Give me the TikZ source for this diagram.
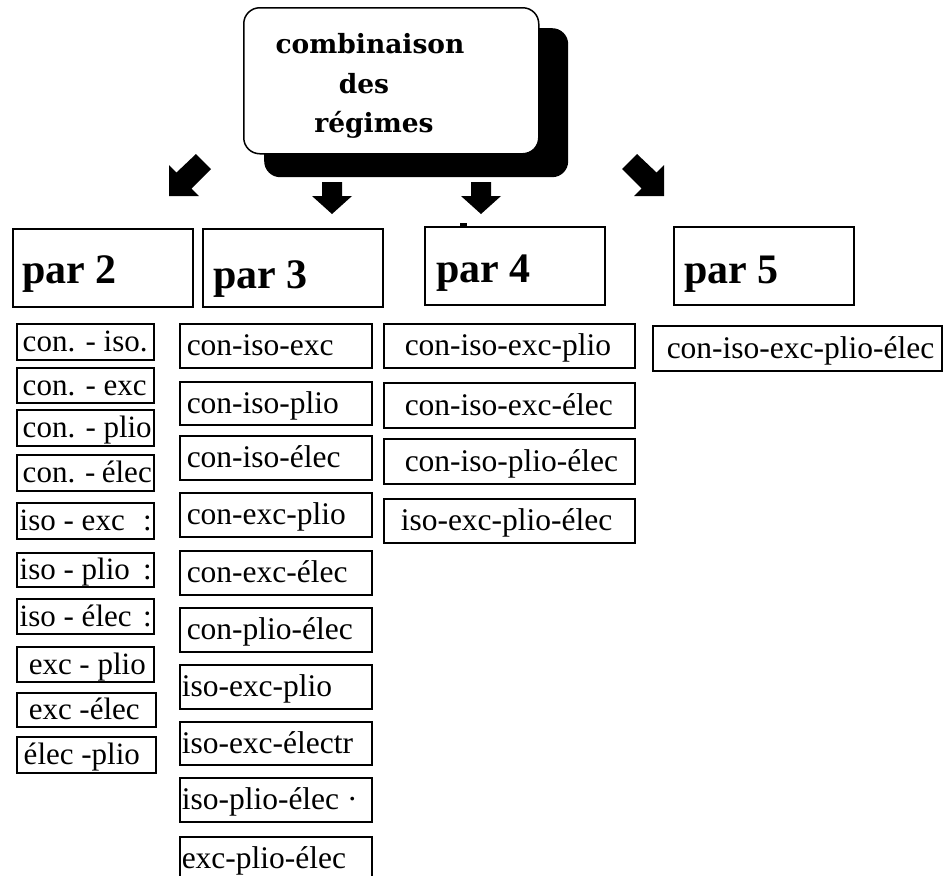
\documentclass[tikz,border=0pt]{standalone}
\usepackage{fontspec}
\setmainfont{Liberation Serif}
\newfontfamily\titlefont{DejaVu Serif}
\newcommand\inbox[2]{\hbox to #1{#2\hfil}}
\begin{document}
\begin{tikzpicture}[x=1pt,y=-1pt,
  box/.style={draw=black, line width=1.5pt, fill=white, inner sep=0pt, anchor=north west},
  small/.style={box, font=\fontsize{31.5}{31.5}\selectfont, text height=20pt, text depth=0pt},
  colA/.style={small, font=\fontsize{31}{31}\selectfont, minimum width=137pt},
  colAw/.style={small, font=\fontsize{31}{31}\selectfont, minimum width=139pt},
  colB/.style={small, minimum width=192pt},
  colC/.style={small, minimum width=251pt},
  colD/.style={small, minimum width=289pt},
  parbox/.style={box, minimum width=180pt, minimum height=78pt},
  parlabel/.style={anchor=base west, inner sep=0pt, font=\fontsize{42}{42}\selectfont\bfseries},
  titleline/.style={anchor=base, inner sep=0pt, font=\titlefont\bfseries\fontsize{26.5}{26.5}\selectfont},
  blockarrow/.style={fill=black, draw=none}
]
\useasboundingbox (0,0) rectangle (943,876);

% title box with shadow
\node[anchor=north west, fill=black, rounded corners=16pt, minimum width=304pt, minimum height=149pt, inner sep=0pt] (shadow) at (264,28) {};
\node[box, rounded corners=16pt, minimum width=295pt, minimum height=146pt] (top) at (243,7) {};
\node[titleline] (t1) at (370,53) {combinaison};
\node[titleline] (t2) at (364,93) {des};
\node[titleline] (t3) at (374,132) {régimes};

% block arrows
\fill[blockarrow] (169,196) -- (169,165) -- (176.5,172.5) -- (196,154) -- (211,169) -- (191.5,188.5) -- (199,196) -- cycle;
\fill[blockarrow] (664,196) -- (664,165) -- (656.5,172.5) -- (637,154) -- (622,169) -- (641.5,188.5) -- (634,196) -- cycle;
\fill[blockarrow] (322,182) -- (342,182) -- (342,196) -- (352,196) -- (332,214) -- (312,196) -- (322,196) -- cycle;
\fill[blockarrow] (471,182) -- (491,182) -- (491,196) -- (501,196) -- (481,214) -- (461,196) -- (471,196) -- cycle;
\fill (460,223) rectangle (467,226.5);

% par boxes
\node[parbox] (p2) at (12,228) {};
\node[parbox] (p3) at (202,228) {};
\node[parbox] (p4) at (424,226) {};
\node[parbox] (p5) at (673,226) {};
\node[parlabel] (l2) at (22,283) {par 2};
\node[parlabel] (l3) at (213,288) {par 3};
\node[parlabel] (l4) at (436,282) {par 4};
\node[parlabel] (l5) at (684,283) {par 5};

% column par 2
\node[colA, minimum height=36pt] (a1) at (16,323) {\inbox{133pt}{\hspace*{4pt}con. - iso.}};
\node[colA, minimum height=35pt] (a2) at (16,367) {\inbox{133pt}{\hspace*{4pt}con. - exc}};
\node[colA, minimum height=36pt] (a3) at (16,409) {\inbox{133pt}{\hspace*{4pt}con. - plio}};
\node[colA, minimum height=36pt] (a4) at (16,454) {\inbox{133pt}{\hspace*{4pt}con. - élec}};
\node[colA, minimum height=36pt] (a5) at (16,502) {\inbox{133pt}{\hspace*{1pt}iso - exc\hfill:}};
\node[colA, minimum height=34pt] (a6) at (16,552) {\inbox{133pt}{\hspace*{1pt}iso - plio\hfill:}};
\node[colA, minimum height=35pt] (a7) at (16,598) {\inbox{133pt}{\hspace*{1pt}iso - élec\hfill:}};
\node[colA, minimum height=35pt] (a8) at (16,646) {\inbox{133pt}{\hspace*{10pt}exc - plio}};
\node[colAw, minimum height=34pt] (a9) at (16,692) {\inbox{135pt}{\hspace*{10pt}exc -élec}};
\node[colAw, minimum height=36pt] (a10) at (16,736) {\inbox{135pt}{\hspace*{5pt}élec -plio}};

% column par 3
\node[colB, minimum height=44pt] (b1) at (179,323) {\inbox{188pt}{\hspace*{5pt}con-iso-exc}};
\node[colB, minimum height=43pt] (b2) at (179,381) {\inbox{188pt}{\hspace*{5pt}con-iso-plio}};
\node[colB, minimum height=44pt] (b3) at (179,435) {\inbox{188pt}{\hspace*{5pt}con-iso-élec}};
\node[colB, minimum height=44pt] (b4) at (179,492) {\inbox{188pt}{\hspace*{5pt}con-exc-plio}};
\node[colB, minimum height=44pt] (b5) at (179,550) {\inbox{188pt}{\hspace*{5pt}con-exc-élec}};
\node[colB, minimum height=44pt] (b6) at (179,607) {\inbox{188pt}{\hspace*{5pt}con-plio-élec}};
\node[colB, minimum height=44pt] (b7) at (179,664) {\inbox{188pt}{iso-exc-plio}};
\node[colB, minimum height=43pt] (b8) at (179,721) {\inbox{188pt}{iso-exc-électr}};
\node[colB, minimum height=44pt] (b9) at (179,777) {\inbox{188pt}{iso-plio-élec\hspace{8pt}·}};
\node[colB, minimum height=44pt] (b10) at (179,836) {\inbox{188pt}{exc-plio-élec}};

% column par 4
\node[colC, minimum height=44pt] (c1) at (383,323) {\inbox{247pt}{\hspace*{19pt}con-iso-exc-plio}};
\node[colC, minimum height=45pt] (c2) at (383,382) {\inbox{247pt}{\hspace*{19pt}con-iso-exc-élec}};
\node[colC, minimum height=45pt] (c3) at (383,438) {\inbox{247pt}{\hspace*{19pt}con-iso-plio-élec}};
\node[colC, minimum height=44pt] (c4) at (383,498) {\inbox{247pt}{\hspace*{15pt}iso-exc-plio-élec}};

% column par 5
\node[colD, minimum height=45pt] (d1) at (652,325) {\inbox{285pt}{\hspace*{12pt}con-iso-exc-plio-élec}};
\end{tikzpicture}
\end{document}
